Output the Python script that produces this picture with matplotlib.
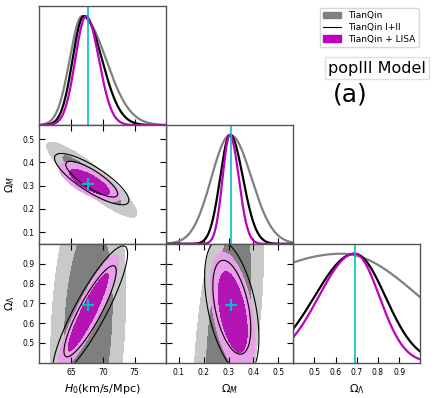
import numpy as np
import matplotlib
matplotlib.use("Agg")
import matplotlib.pyplot as plt
from matplotlib.patches import Patch
from matplotlib.lines import Line2D

# ---------------- data ----------------
datasets = ["TianQin", "TianQin I+II", "TianQin + LISA"]
truth = {"H0": 67.74, "Om": 0.3089, "OL": 0.6911}

# 1D marginals: (mode, sigma_left, sigma_right)
h0_1d = [(66.74, 1.95, 3.75), (67.0, 1.75, 2.86), (67.37, 1.70, 2.01)]
om_1d = [(0.307, 0.076, 0.085), (0.306, 0.040, 0.052), (0.305, 0.029, 0.036)]
ol_1d = [(0.63, 0.56, 0.366), (0.69, 0.19, 0.145), (0.69, 0.17, 0.117)]

# 2D contours: (cx, cy, sx, sy, rho)
h0_om_2d = [(68.27, 0.3255, 2.86, 0.065, -0.90),
            (68.25, 0.328, 2.36, 0.0444, -0.82),
            (67.9, 0.315, 1.93, 0.034, -0.72)]
h0_ol_2d = [(67.7, 0.59, 2.38, 0.32, 0.20),
            (68.0, 0.66, 2.38, 0.133, 0.88),
            (67.7, 0.655, 1.92, 0.117, 0.90)]
om_ol_2d = [(0.30, 0.59, 0.0567, 0.32, 0.47),
            (0.313, 0.68, 0.044, 0.137, -0.45),
            (0.317, 0.655, 0.036, 0.122, -0.45)]

# contour radii (inner, outer) in sigma units, per dataset
levels_k = [(1.65, 2.48), (1.73, 2.48), (1.73, 2.48)]

ranges = {"H0": (60, 80), "Om": (0.05, 0.56), "OL": (0.4, 1.0)}
ticks = {"H0": [65, 70, 75], "Om": [0.1, 0.2, 0.3, 0.4, 0.5],
         "OL": [0.5, 0.6, 0.7, 0.8, 0.9]}
labels = {"H0": r"$H_0$(km/s/Mpc)", "Om": r"$\Omega_M$", "OL": r"$\Omega_\Lambda$"}

# ---------------- styling ----------------
line_cols = ["#808080", "black", "#c000c0"]
fill_cols = [("#7f7f7f", "#c9c9c9"), None, ("#b414b4", "#e8a0e8")]
cyan = "#00c0c8"
spine_col = "#555555"

fig = plt.figure(figsize=(4.36, 3.98), dpi=100)
L, B = 39.3 / 436, (398 - 362.7) / 398
W, H = 127 / 436, 118.8 / 398

def make_ax(col, row):
    return fig.add_axes([L + col * W, B + (2 - row) * H, W, H])

def style(ax):
    for s in ax.spines.values():
        s.set_color(spine_col)
        s.set_linewidth(1.0)
    ax.tick_params(direction="in", length=4, width=0.8, labelsize=5.5,
                   colors="black")

def split_normal(x, mode, sl, sr):
    s = np.where(x < mode, sl, sr)
    return np.exp(-0.5 * ((x - mode) / s) ** 2)

def plot_1d(ax, key, params):
    lo, hi = ranges[key]
    x = np.linspace(lo, hi, 400)
    for (m, sl, sr), c in zip(params, line_cols):
        ax.plot(x, split_normal(x, m, sl, sr), color=c, lw=1.6)
    ax.axvline(truth[key], color=cyan, lw=1.2)
    ax.set_xlim(lo, hi)
    ax.set_ylim(0, 1.09)
    ax.set_yticks([])
    ax.set_xticks(ticks[key])
    style(ax)
    ax.tick_params(top=False, left=False, right=False)

def plot_2d(ax, kx, ky, params):
    x = np.linspace(*ranges[kx], 300)
    y = np.linspace(*ranges[ky], 300)
    X, Y = np.meshgrid(x, y)
    Qs = []
    for (cx, cy, sx, sy, r) in params:
        dx, dy = (X - cx) / sx, (Y - cy) / sy
        Qs.append((dx ** 2 - 2 * r * dx * dy + dy ** 2) / (1 - r ** 2))
    for i in (0, 2):
        k1, k2 = levels_k[i]
        ax.contourf(X, Y, Qs[i], levels=[0, k1 ** 2, k2 ** 2],
                    colors=list(fill_cols[i]))
    k1, k2 = levels_k[1]
    ax.contour(X, Y, Qs[1], levels=[k1 ** 2, k2 ** 2], colors="black",
               linewidths=0.8)
    ax.plot(truth[kx], truth[ky], marker="+", color=cyan, ms=9, mew=1.5)
    ax.set_xlim(*ranges[kx])
    ax.set_ylim(*ranges[ky])
    ax.set_xticks(ticks[kx])
    ax.set_yticks(ticks[ky])
    style(ax)
    ax.tick_params(top=True, right=True)

ax00 = make_ax(0, 0); plot_1d(ax00, "H0", h0_1d)
ax11 = make_ax(1, 1); plot_1d(ax11, "Om", om_1d)
ax22 = make_ax(2, 2); plot_1d(ax22, "OL", ol_1d)
ax10 = make_ax(0, 1); plot_2d(ax10, "H0", "Om", h0_om_2d)
ax20 = make_ax(0, 2); plot_2d(ax20, "H0", "OL", h0_ol_2d)
ax21 = make_ax(1, 2); plot_2d(ax21, "Om", "OL", om_ol_2d)

for ax in (ax00, ax11, ax10):
    ax.tick_params(labelbottom=False)
ax21.tick_params(labelleft=False)
ax10.set_ylabel(labels["Om"], fontsize=8)
ax20.set_ylabel(labels["OL"], fontsize=8)
ax20.set_xlabel(labels["H0"], fontsize=8)
ax21.set_xlabel(labels["Om"], fontsize=8)
ax22.set_xlabel(labels["OL"], fontsize=8)

handles = [Patch(color="#808080"),
           Line2D([], [], color="black", lw=0.8),
           Patch(color="#c000c0")]
fig.legend(handles, datasets, loc="upper right", bbox_to_anchor=(0.972, 0.992),
           fontsize=6.5, frameon=True, handlelength=2.0, borderpad=0.4,
           labelspacing=0.3)
fig.text(0.865, 0.829, "popIII Model", fontsize=11.5, ha="center", va="center",
         bbox=dict(facecolor="white", edgecolor="#e0e0e0", boxstyle="square,pad=0.2"))
fig.text(0.803, 0.762, "(a)", fontsize=18, ha="center", va="center")

fig.savefig("out.png", dpi=100)
